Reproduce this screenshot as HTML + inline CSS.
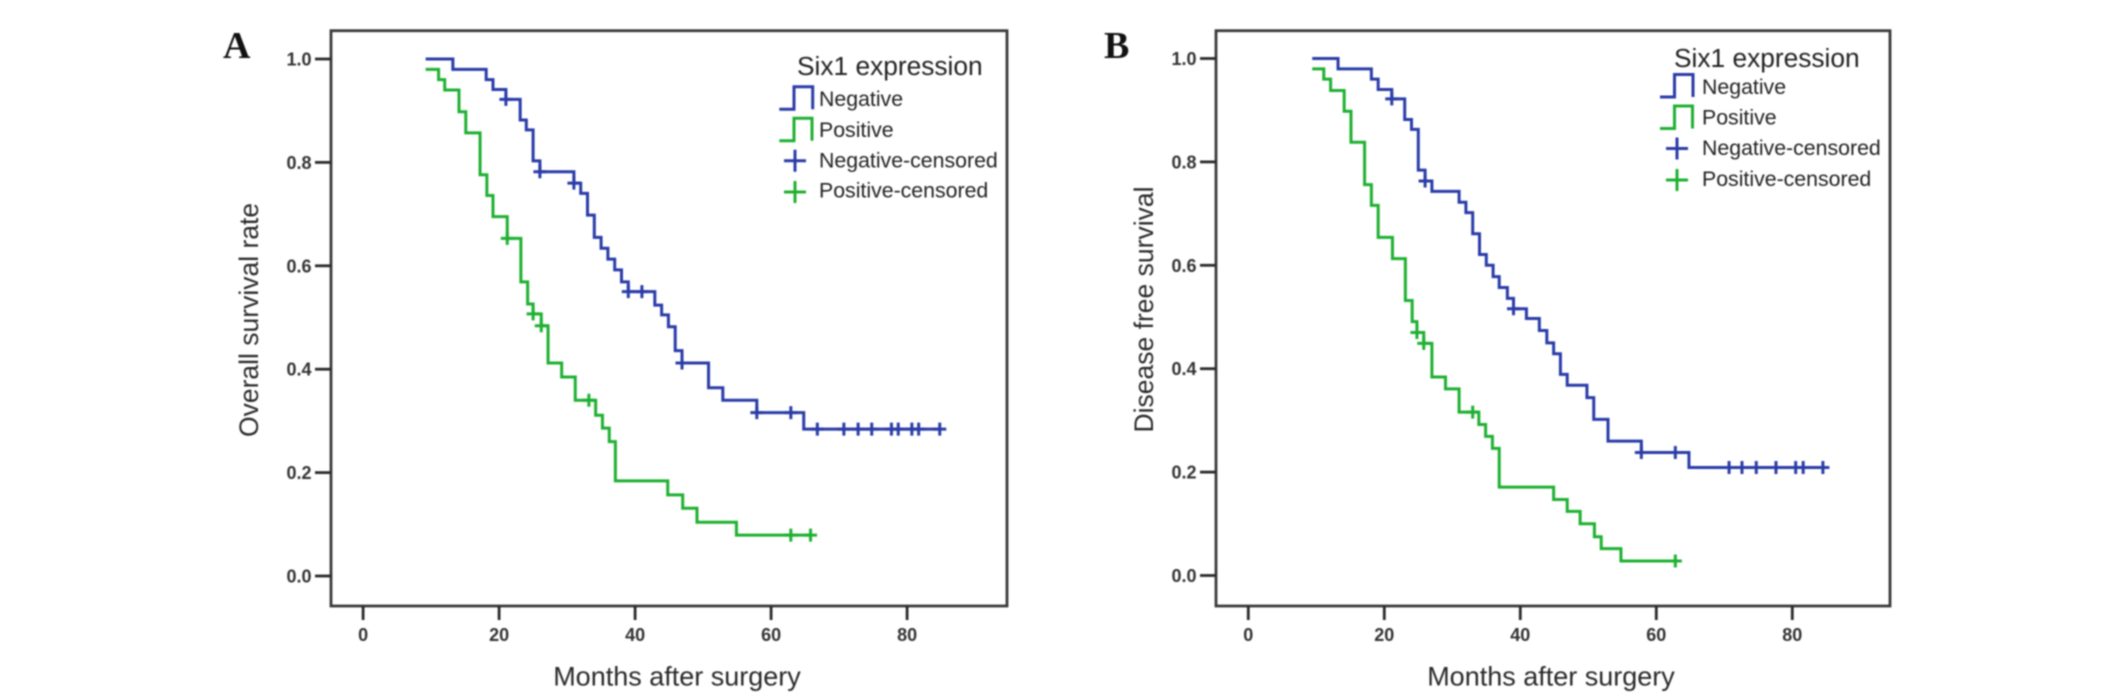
<!DOCTYPE html>
<html>
<head>
<meta charset="utf-8">
<title>Six1 expression survival curves</title>
<style>
html,body{margin:0;padding:0;background:#fff;width:2126px;height:697px;overflow:hidden}
svg{display:block;filter:blur(0.75px)}
text{font-family:"Liberation Sans",sans-serif;fill:#2a2a2a}
.tick{font-size:18px;font-weight:bold;fill:#333}
.axis-title{font-size:26.5px;fill:#2a2a2a}
.x-title{font-size:27px}
.leg{font-size:21.3px;fill:#222}
.leg-title{font-size:26.3px;fill:#222}
.panel{font-family:"Liberation Serif",serif;font-size:38px;font-weight:bold;fill:#111}
</style>
</head>
<body>
<svg id="figure" width="2126" height="697" viewBox="0 0 2126 697" xmlns="http://www.w3.org/2000/svg">
  <g id="panel-a">
    <text class="panel" x="223" y="58">A</text>
    <text class="axis-title" transform="translate(258,437) rotate(-90)">Overall survival rate</text>
    <text class="axis-title x-title" x="677" y="685.5" text-anchor="middle">Months after surgery</text>
    <g>
      <text class="leg-title" x="797" y="75">Six1 expression</text>
      <path d="M779.3 109.3H794V86.7H812.7V109.3" fill="none" stroke="#2a3ca8" stroke-width="3"/>
      <text class="leg" x="819" y="106">Negative</text>
      <path d="M779.3 140.7H794V118.3H812V140.7" fill="none" stroke="#1fb032" stroke-width="3"/>
      <text class="leg" x="819" y="137">Positive</text>
      <path d="M784 160.7H806M795 149.7V171.7" fill="none" stroke="#2a3ca8" stroke-width="3"/>
      <text class="leg" x="819" y="167.5">Negative-censored</text>
      <path d="M784 192H806M795 181V203" fill="none" stroke="#1fb032" stroke-width="3"/>
      <text class="leg" x="819" y="197.5">Positive-censored</text>
    </g>
  </g>
  <g id="panel-b">
    <text class="panel" x="1104" y="58">B</text>
    <text class="axis-title" transform="translate(1153,432.5) rotate(-90)">Disease free survival</text>
    <text class="axis-title x-title" x="1551" y="685.5" text-anchor="middle">Months after surgery</text>
    <g>
      <text class="leg-title" x="1674" y="67">Six1 expression</text>
      <path d="M1660 97H1674.5V74.5H1693V97" fill="none" stroke="#2a3ca8" stroke-width="3"/>
      <text class="leg" x="1702" y="94">Negative</text>
      <path d="M1660 128.5H1674.5V106H1692.5V128.5" fill="none" stroke="#1fb032" stroke-width="3"/>
      <text class="leg" x="1702" y="124.5">Positive</text>
      <path d="M1666 148.5H1688M1677 137.5V159.5" fill="none" stroke="#2a3ca8" stroke-width="3"/>
      <text class="leg" x="1702" y="155">Negative-censored</text>
      <path d="M1666 180H1688M1677 169V191" fill="none" stroke="#1fb032" stroke-width="3"/>
      <text class="leg" x="1702" y="186">Positive-censored</text>
    </g>
  </g>
</svg>
<script>
// Tick labels
const monthTicks = [0, 20, 40, 60, 80];
const survivalTicks = [0.0, 0.2, 0.4, 0.6, 0.8, 1.0];

// Panel A: overall survival
const aNegTimes = [9.2,13.2,18.1,19.1,21,23.1,24,25,26,31,32,33,34,35,36,37,38,39,42.9,43.9,44.9,45.9,46.9,50.8,52.9,57.9,64.8];
const aNegLevels = [1,0.98,0.96,0.941,0.922,0.882,0.863,0.803,0.782,0.76,0.74,0.698,0.655,0.634,0.613,0.592,0.569,0.55,0.524,0.505,0.482,0.436,0.412,0.364,0.34,0.316,0.284];
const aNegCensored = [21,26,31,39,41,46.9,57.9,62.9,66.8,70.7,72.8,74.8,77.7,78.7,80.7,81.7,84.8];
const aPosTimes = [9.2,11.1,12,14.1,15.1,17.2,18.2,19.1,21.2,23.2,24.2,25,26.2,27.2,29.2,31.2,34.2,35.2,36.2,37.1,44.8,47,49.1,54.9];
const aPosLevels = [0.98,0.96,0.94,0.898,0.857,0.776,0.736,0.695,0.653,0.569,0.526,0.507,0.484,0.412,0.385,0.34,0.311,0.286,0.26,0.184,0.157,0.131,0.104,0.079];
const aPosCensored = [21.2,25,26.2,33.2,62.9,65.8];

// Panel B: disease free survival
const bNegTimes = [9.4,13.2,18.1,19.1,21.1,23,24,25,26,27,31,32,33,34,35,36,36.9,38.1,39,40.9,42.8,43.9,44.9,45.9,46.9,49.8,50.8,52.9,57.8,64.8];
const bNegLevels = [1,0.98,0.96,0.94,0.922,0.882,0.863,0.784,0.763,0.743,0.722,0.702,0.661,0.621,0.6,0.578,0.557,0.536,0.516,0.497,0.474,0.45,0.429,0.389,0.368,0.344,0.302,0.26,0.238,0.209];
const bNegCensored = [21.1,26,39,57.8,62.8,70.7,72.6,74.7,77.6,80.5,81.6,84.5];
const bPosTimes = [9.4,11.1,12.1,14.1,15.1,17.1,18.1,19.1,21.2,23.1,24.1,24.8,25.8,27,29,31,33.9,34.9,35.9,36.9,44.9,46.9,48.8,50.9,51.9,54.8];
const bPosLevels = [0.98,0.96,0.938,0.898,0.838,0.756,0.716,0.654,0.613,0.532,0.491,0.47,0.449,0.384,0.361,0.316,0.292,0.269,0.246,0.171,0.147,0.124,0.1,0.075,0.052,0.028];
const bPosCensored = [24.8,25.8,33,62.8];

const NS = 'http://www.w3.org/2000/svg';
const NEG_COLOR = '#2a3ca8';
const POS_COLOR = '#1fb032';

function levelAt(times, levels, t) {
  let v = levels[0];
  for (let i = 0; i < times.length; i++) {
    if (times[i] <= t) v = levels[i];
  }
  return v;
}

function drawCurve(parent, xScale, yScale, times, levels, censored, color, label) {
  const end = Math.max(times[times.length - 1], censored[censored.length - 1]);
  let d = 'M' + xScale(times[0]) + ' ' + yScale(levels[0]);
  for (let i = 1; i < times.length; i++) {
    d += 'H' + xScale(times[i]) + 'V' + yScale(levels[i]);
  }
  d += 'H' + xScale(end);
  const line = document.createElementNS(NS, 'path');
  line.setAttribute('d', d);
  line.setAttribute('fill', 'none');
  line.setAttribute('stroke', color);
  line.setAttribute('stroke-width', '3');
  
  
  parent.appendChild(line);
  censored.forEach(function (t) {
    const cx = xScale(t);
    const cy = yScale(levelAt(times, levels, t));
    const mark = document.createElementNS(NS, 'path');
    mark.setAttribute('d', 'M' + (cx - 6.5) + ' ' + cy + 'H' + (cx + 6.5) + 'M' + cx + ' ' + (cy - 6.5) + 'V' + (cy + 6.5));
    mark.setAttribute('fill', 'none');
    mark.setAttribute('stroke', color);
    mark.setAttribute('stroke-width', '3');
    
    
    parent.appendChild(mark);
  });
}

function drawFrame(parent, box, xScale, yScale, suffix) {
  const frame = document.createElementNS(NS, 'rect');
  frame.setAttribute('x', box.left);
  frame.setAttribute('y', box.top);
  frame.setAttribute('width', box.right - box.left);
  frame.setAttribute('height', box.bottom - box.top);
  frame.setAttribute('fill', 'none');
  frame.setAttribute('stroke', '#3a3a3a');
  frame.setAttribute('stroke-width', '2.8');
  
  
  parent.appendChild(frame);

  survivalTicks.forEach(function (v) {
    const y = yScale(v);
    const tick = document.createElementNS(NS, 'line');
    tick.setAttribute('x1', box.left - 16);
    tick.setAttribute('x2', box.left);
    tick.setAttribute('y1', y);
    tick.setAttribute('y2', y);
    tick.setAttribute('stroke', '#2a2a2a');
    tick.setAttribute('stroke-width', '2.8');
    
    
    parent.appendChild(tick);
    const label = document.createElementNS(NS, 'text');
    label.setAttribute('class', 'tick');
    label.setAttribute('x', box.left - 19.5);
    label.setAttribute('y', y + 6.5);
    label.setAttribute('text-anchor', 'end');
    
    
    label.textContent = v.toFixed(1);
    parent.appendChild(label);
  });

  monthTicks.forEach(function (m) {
    const x = xScale(m);
    const tick = document.createElementNS(NS, 'line');
    tick.setAttribute('x1', x);
    tick.setAttribute('x2', x);
    tick.setAttribute('y1', box.bottom);
    tick.setAttribute('y2', box.bottom + 14);
    tick.setAttribute('stroke', '#2a2a2a');
    tick.setAttribute('stroke-width', '2.8');
    
    
    parent.appendChild(tick);
    const label = document.createElementNS(NS, 'text');
    label.setAttribute('class', 'tick');
    label.setAttribute('x', x);
    label.setAttribute('y', box.bottom + 35);
    label.setAttribute('text-anchor', 'middle');
    
    
    label.textContent = String(m);
    parent.appendChild(label);
  });
}

const boxA = { left: 331, top: 30.7, right: 1007, bottom: 606 };
const boxB = { left: 1216, top: 30.7, right: 1890, bottom: 606 };
const xA = function (m) { return 363.1 + 6.8 * m; };
const yA = function (v) { return 576 - 517 * v; };
const xB = function (m) { return 1248.3 + 6.8 * m; };
const yB = function (v) { return 575.5 - 517 * v; };

const panelA = document.getElementById('panel-a');
const panelB = document.getElementById('panel-b');

drawFrame(panelA, boxA, xA, yA, 'a');
drawCurve(panelA, xA, yA, aNegTimes, aNegLevels, aNegCensored, NEG_COLOR, 'negative-a');
drawCurve(panelA, xA, yA, aPosTimes, aPosLevels, aPosCensored, POS_COLOR, 'positive-a');

drawFrame(panelB, boxB, xB, yB, 'b');
drawCurve(panelB, xB, yB, bNegTimes, bNegLevels, bNegCensored, NEG_COLOR, 'negative-b');
drawCurve(panelB, xB, yB, bPosTimes, bPosLevels, bPosCensored, POS_COLOR, 'positive-b');
</script>
</body>
</html>
